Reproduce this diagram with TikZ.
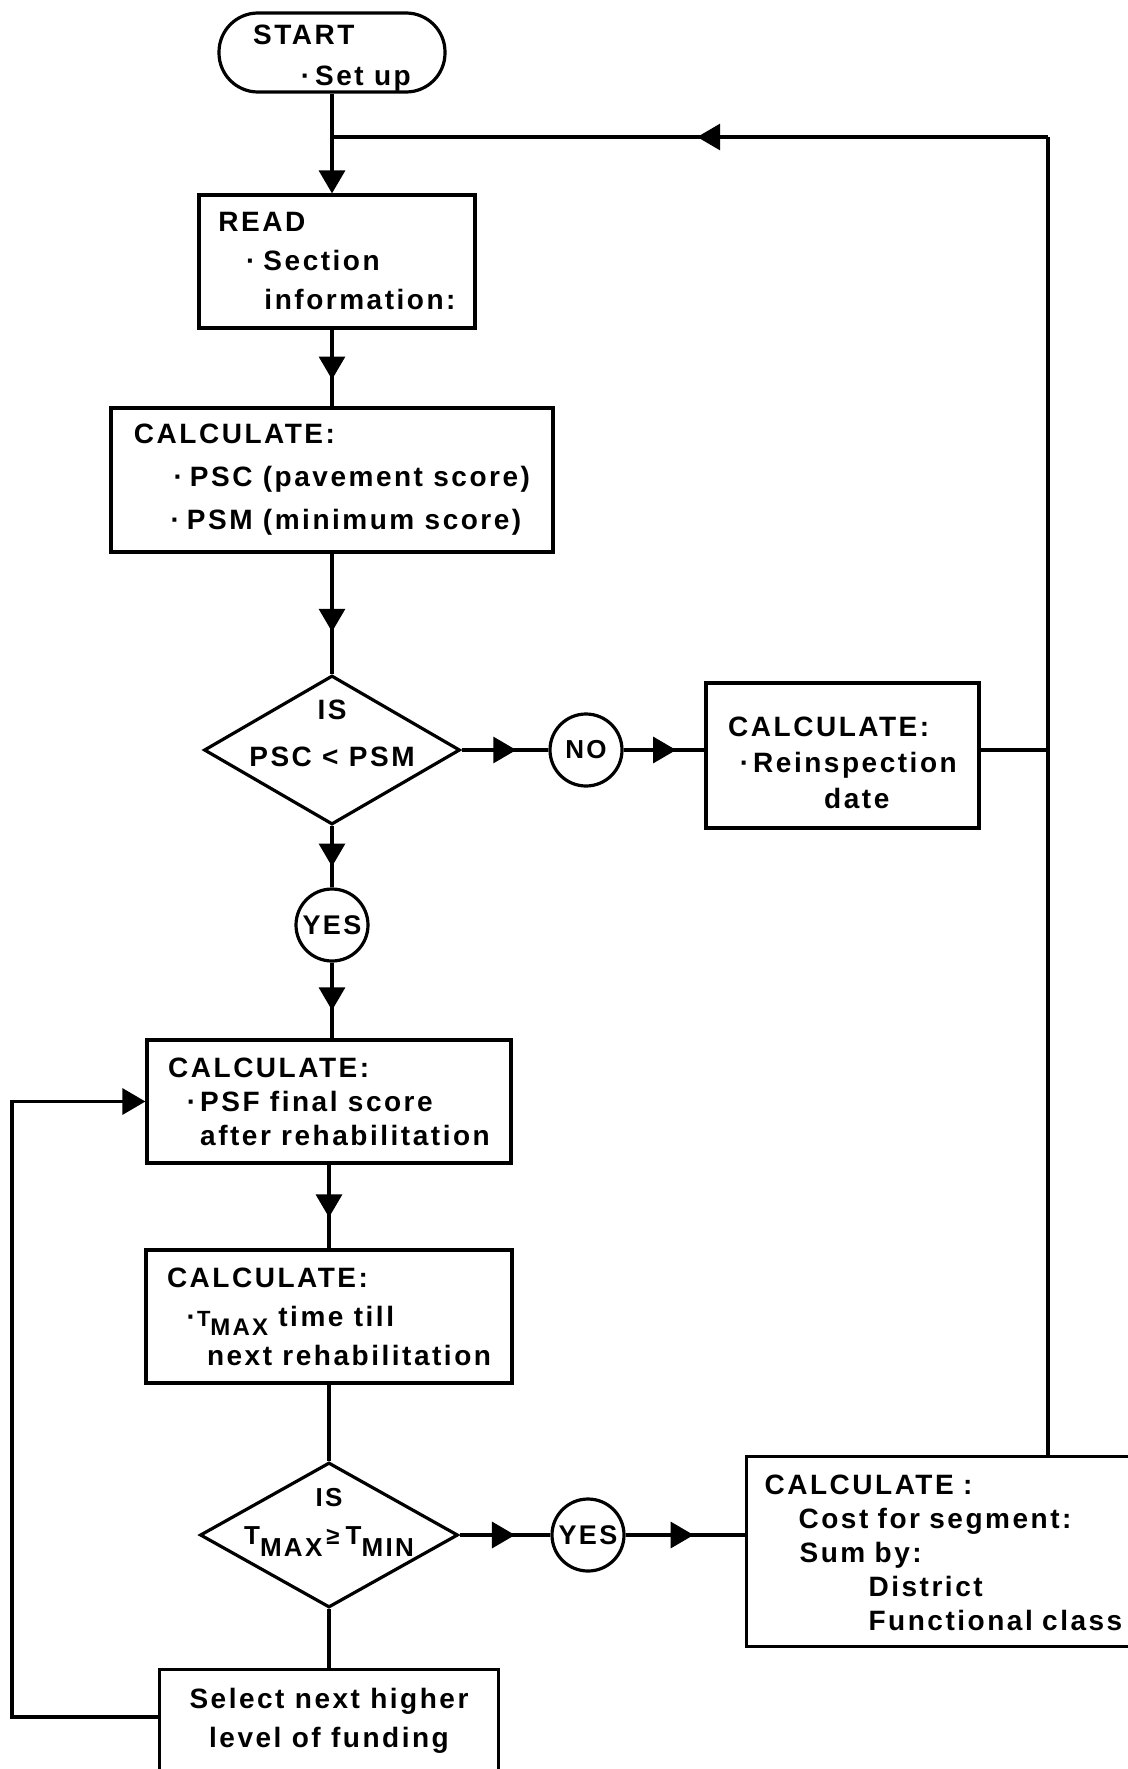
\documentclass[tikz,border=0pt]{standalone}
\usepackage{fontspec}
\setmainfont{Liberation Sans}[LetterSpace=9]
\usepackage{tikz}
\usetikzlibrary{arrows.meta,shapes.geometric,decorations.markings}

\newcommand{\Tsub}[4]{{\fontsize{#1}{#1}\selectfont T}\raisebox{-#3}{\fontsize{#2}{#2}\selectfont #4}}
\newcommand{\topgap}[1]{\rule{0pt}{#1}}

\begin{document}
\begin{tikzpicture}[
    x=1pt, y=-1pt, line width=3.2pt,
    every node/.style={font=\bfseries\fontsize{28}{39}\selectfont},
    process/.style={draw, align=left, inner sep=0pt},
    terminal/.style={draw, rounded corners=39pt, align=left, minimum width=226pt, minimum height=79pt, inner sep=0pt},
    decision/.style={draw, diamond, inner sep=0pt},
    junction/.style={draw, circle, minimum size=72pt, inner sep=0pt},
    arr/.style={-{Triangle[length=23pt,width=26pt]}},
    flow/.style={postaction={decorate}, decoration={markings, mark=at position #1 with {\arrow{Triangle[length=23pt,width=26pt]}}}},
]
\useasboundingbox (0,0) rectangle (1127,1769);

\node[terminal, font=\bfseries\fontsize{28}{41}\selectfont] (start) at (332,52.5)
  {\topgap{30pt}START\\\hspace*{62pt}\llap{·\hspace{5pt}}Set up};
\node[process, minimum width=276pt, minimum height=133pt] (read) at (337,261.5)
  {READ\\\hspace*{45pt}\llap{·\hspace{8pt}}Section\\\hspace*{46pt}information:};
\node[process, minimum width=442pt, minimum height=144pt, font=\bfseries\fontsize{28}{43}\selectfont] (calcPSC) at (332,480)
  {CALCULATE:\\\hspace*{56pt}\llap{·\hspace{7pt}}PSC (pavement score)\\\hspace*{53pt}\llap{·\hspace{7pt}}PSM (minimum score)};
\node[decision, minimum width=256pt, minimum height=149pt,
  label={[align=center, yshift=17pt, font=\bfseries\fontsize{28}{47}\selectfont]center:IS\\PSC < PSM}] (isPSC) at (332,750) {};
\node[junction, font=\bfseries\fontsize{26}{26}\selectfont] (no) at (586,750) {NO};
\node[process, minimum width=273pt, minimum height=145pt, font=\bfseries\fontsize{28}{36}\selectfont] (reinsp) at (842.5,755.5)
  {\topgap{34pt}CALCULATE:\\\hspace*{25pt}\llap{·\hspace{4pt}}Reinspection\\\hspace*{96pt}date};
\node[junction, font=\bfseries\fontsize{27}{27}\selectfont] (yesA) at (332,925) {YES};

\node[process, minimum width=364pt, minimum height=123pt, font=\bfseries\fontsize{28}{34}\selectfont] (calcPSF) at (329,1101.5)
  {CALCULATE:\\\hspace*{32pt}\llap{·\hspace{4pt}}PSF final score\\\hspace*{32pt}after rehabilitation};
\node[process, minimum width=366pt, minimum height=133pt] (calcTmax) at (329,1316.5)
  {CALCULATE:\\\hspace*{30pt}\llap{·\hspace{1pt}}\Tsub{22pt}{24pt}{9pt}{MAX} time till\\\hspace*{40pt}next rehabilitation};
\node[decision, minimum width=258pt, minimum height=145pt,
  label={[align=center, yshift=13pt, font=\bfseries\fontsize{26}{38}\selectfont]center:IS\\\Tsub{26pt}{26pt}{12pt}{MAX}\hspace{4pt}{\fontsize{24}{24}\selectfont ≥}\hspace{6pt}\Tsub{26pt}{26pt}{12pt}{MIN}}] (isTmax) at (329,1535) {};
\node[junction, font=\bfseries\fontsize{27}{27}\selectfont] (yesB) at (588,1535) {YES};
\node[process, anchor=north west, minimum width=420pt, minimum height=190pt, text width=384pt, inner xsep=18pt, inner ysep=2pt,
  font=\bfseries\fontsize{28}{34}\selectfont] (cost) at (745,1455)
  {\topgap{22pt}CALCULATE :\\\hspace*{34pt}Cost for segment:\\\hspace*{35pt}Sum by:\\\hspace*{104pt}District\\\hspace*{104pt}Functional class};
\node[process, anchor=north, minimum width=339pt, align=center, inner ysep=19pt, text depth=100pt,
  font=\bfseries\fontsize{28}{39}\selectfont] (select) at (329,1668)
  {Select next higher\\level of funding};

\coordinate (loopTL) at (332,137);
\coordinate (loopTR) at (1048,137);
\coordinate (loopBL) at (12,1717);

\draw[arr] (start) -- (read.north -| start);
\draw[flow=0.65] (read.south -| calcPSC) -- (calcPSC);
\draw[flow=0.65] (calcPSC) -- (isPSC);
\draw[flow=0.63] (isPSC) -- (no);
\draw[flow=0.65] (no.east) -- (no.east -| reinsp.west);
\draw (reinsp.east |- no.east) -- (no.east -| loopTR);
\draw[flow=0.66] (isPSC) -- (yesA);
\draw[flow=0.63] (yesA) -- (yesA |- calcPSF.north);
\draw[flow=0.63] (calcPSF) -- (calcTmax);
\draw (calcTmax) -- (isTmax);
\draw[flow=0.61] (isTmax) -- (yesB);
\draw[flow=0.57] (yesB.east) -- (yesB.east -| cost.west);
\draw (isTmax) -- (select);
\draw[arr] (select.west |- loopBL) -- (loopBL) |- (calcPSF.west);
\draw (cost.north -| loopTR) -- (loopTR);
\draw[flow=0.49] (loopTR) -- (loopTL);
\end{tikzpicture}
\end{document}
